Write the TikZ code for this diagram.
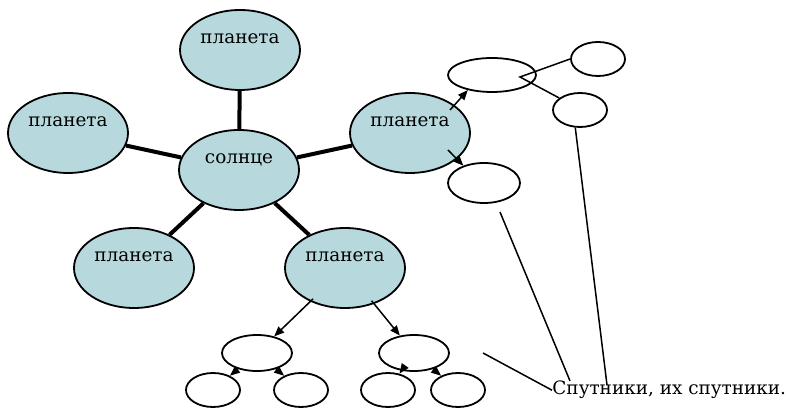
\documentclass[tikz,border=0pt]{standalone}
\usepackage{fontspec}
\setmainfont{DejaVu Serif}
\usetikzlibrary{shapes.geometric, arrows.meta}
\definecolor{planetfill}{HTML}{B7D8DC}

\begin{document}
\begin{tikzpicture}[x=0.5pt, y=-0.5pt, >={Triangle[length=5pt, width=4pt]}]
    \tikzstyle{planet} = [ellipse, draw, fill=planetfill, line width=0.9pt, inner sep=0pt, minimum width=60pt, minimum height=40pt, font=\fontsize{9.2}{11}\selectfont, text height=4.7pt, text depth=11pt]
    \tikzstyle{moon} = [ellipse, draw, fill=white, line width=0.9pt, inner sep=0pt, minimum width=27pt, minimum height=17pt]
    \tikzstyle{orbit} = [draw, line width=2pt]
    \tikzstyle{thin} = [draw, line width=0.75pt]
    \tikzstyle{arr} = [thin, ->]

    \useasboundingbox (0,0) rectangle (793,410);

    % sun and planets
    \node [planet] (sun) at (239,170) {солнце};
    \node [planet] (ptop) at (240,50) {планета};
    \node [planet] (pleft) at (68,133) {планета};
    \node [planet] (pright) at (410,133) {планета};
    \node [planet] (pbl) at (134,268) {планета};
    \node [planet] (pbr) at (345,268) {планета};

    % satellites
    \node [moon, minimum width=44pt] (ma) at (492,75) {};
    \node [moon] (mb) at (598,59) {};
    \node [moon] (mc) at (580,110) {};
    \node [moon, minimum width=36pt, minimum height=20pt] (md) at (484,183) {};
    \node [moon, minimum width=35pt, minimum height=18pt] (me) at (257,353) {};
    \node [moon] (mf) at (213,390) {};
    \node [moon] (mg) at (301,390) {};
    \node [moon, minimum width=35pt, minimum height=18pt] (mh) at (414,353) {};
    \node [moon] (mi) at (388,390) {};
    \node [moon] (mj) at (458,390) {};

    \node [anchor=base west, inner sep=0pt, font=\fontsize{9.2}{11}\selectfont] (caption) at (552,395) {Спутники, их спутники.};

    \foreach \p in {ptop,pleft,pright,pbl,pbr}
        \path [orbit] (sun) -- (\p);

    \path [arr] ([xshift=20pt, yshift=11.5pt]pright.center) -- (ma.-148);
    \path [arr] ([xshift=19pt, yshift=-8.5pt]pright.center) -- (md.140);
    \path [arr, shorten <=-2pt] (pbr) -- (me);
    \path [arr, shorten <=-2pt] (pbr) -- (mh);
    \path [arr] (me) -- (mf);
    \path [arr] (me) -- (mg);
    \path [arr] (mh) -- (mi);
    \path [arr] (mh) -- (mj);

    \coordinate (fork) at (520,77);
    \path [thin] (mb.west) -- (fork) -- (mc.150);

    % pointers to the caption
    \coordinate (tip1) at (483,353);
    \coordinate (tip2) at (500,212);
    \path [thin] (tip1) -- (caption.west);
    \path [thin] (tip2) -- ([xshift=9pt]caption.north west);
    \path [thin] (mc.255) -- ([xshift=27.5pt, yshift=-2pt]caption.north west);
\end{tikzpicture}
\end{document}
